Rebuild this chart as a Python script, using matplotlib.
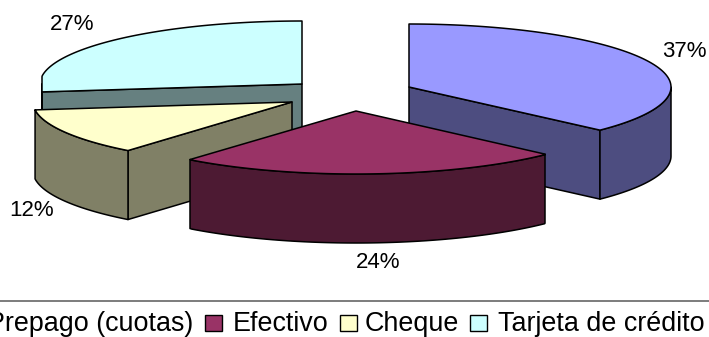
import matplotlib
matplotlib.use('Agg')
import matplotlib.pyplot as plt
import numpy as np
from matplotlib.patches import Polygon, Rectangle

plt.rcParams['font.family'] = ['Liberation Sans', 'DejaVu Sans']

names = ['Prepago (cuotas)', 'Efectivo', 'Cheque', 'Tarjeta de crédito']
percent = [37, 24, 12, 27]
top_colors = ['#9999FF', '#993366', '#FFFFCC', '#CCFFFF']
side_colors = ['#4D4D80', '#4D1A33', '#808066', '#668080']
apex = [(409, 87), (356, 111), (295, 102), (302, 84)]
# horizontal limits of each slice, the plot area cuts them off
x_limits = [(409, 671), (190, 545), (35, 292), (42, 302)]
label_pos = [(684, 57), (378, 268), (32, 216), (72, 30)]
legend_box_x = [205, 339.5, 470]
legend_text_x = [-13, 232.5, 365, 497.5]

rx, ry, depth = 262, 63, 69
LEGEND_SIZE = 19.4
LABEL_SIZE = 16

fig = plt.figure(figsize=(7.09, 3.37), dpi=100)
ax = fig.add_axes([0, 0, 1, 1])
ax.set_xlim(0, 709)
ax.set_ylim(337, 0)
ax.axis('off')

def arc(center, a0, a1):
    # angles run clockwise from the top of the ellipse
    t = np.radians(np.linspace(a0, a1, 120))
    return np.column_stack([center[0] + rx * np.sin(t), center[1] - ry * np.cos(t)])

def face(pts, color, z, lims):
    pts = np.array(pts, dtype=float)
    pts[:, 0] = np.clip(pts[:, 0], *lims)
    ax.add_patch(Polygon(pts, closed=True, fc=color, ec='black', lw=1.1, zorder=z, joinstyle='round'))

def drop(pts):
    return pts + np.array([0, depth])

def draw_slice(i, a0, a1, z):
    c = np.array(apex[i], dtype=float)
    lims = x_limits[i]
    # cut faces that look toward the viewer, then the outer rim, then the top
    for a in (a0, a1):
        s = np.radians(a)
        edge = np.array([c, c + [rx * np.sin(s), -ry * np.cos(s)]])
        facing = (a == a0 and 180 < a0 % 360) or (a == a1 and 0 < a1 % 360 < 180)
        if facing:
            face(np.vstack([edge, drop(edge)[::-1]]), side_colors[i], z, lims)
    lo, hi = max(a0, 90), min(a1, 270)
    if lo < hi:
        rim = arc(c, lo, hi)
        face(np.vstack([rim, drop(rim)[::-1]]), side_colors[i], z, lims)
    top = arc(c, a0, a1)
    face(np.vstack([c, top]), top_colors[i], z, lims)

edges = np.cumsum([0] + percent) * 3.6
for i, z in zip([3, 0, 2, 1], [1, 2, 3, 4]):
    draw_slice(i, edges[i], edges[i + 1], z)

for p, (x, y) in zip(percent, label_pos):
    ax.text(x, y, f'{p}%', fontsize=LABEL_SIZE, ha='center', va='baseline', color='black', zorder=6)

# legend strip, its frame runs past the canvas on three sides
ax.add_patch(Rectangle((-5, 300.5), 719, 60, fc='white', ec='#666666', lw=1.2, zorder=7))
for x, c in zip(legend_box_x, top_colors[1:]):
    ax.add_patch(Rectangle((x, 314.5), 17, 16.5, fc=c, ec='black', lw=1, zorder=8))
for x, t in zip(legend_text_x, names):
    ax.text(x, 331, t, fontsize=LEGEND_SIZE, ha='left', va='baseline', color='black', zorder=8)

fig.savefig('out.png', dpi=100)
